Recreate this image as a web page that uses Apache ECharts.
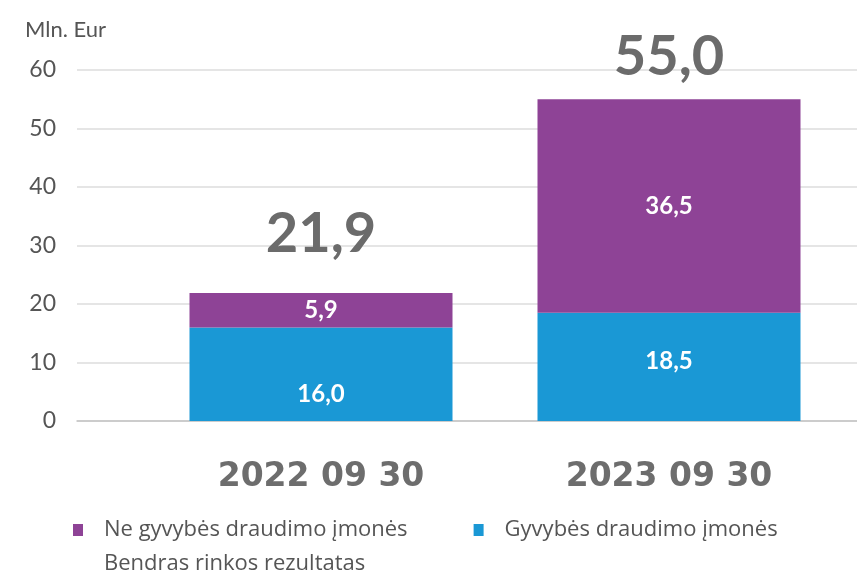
<!DOCTYPE html>
<html>
<head>
<meta charset="utf-8">
<script src="https://cdn.jsdelivr.net/npm/echarts@6/dist/echarts.min.js"></script>
<style>
  html, body { margin: 0; padding: 0; background: #fff; }
  #chart { width: 857px; height: 571px; }
</style>
</head>
<body>
<div id="chart"></div>
<script>
// duomenys
const categories = ['2022 09 30', '2023 09 30']
const lifeValues = [16.0, 18.5]        // Gyvybės draudimo įmonės
const nonLifeValues = [5.9, 36.5]      // Ne gyvybės draudimo įmonės
const totalValues = [21.9, 55.0]       // Bendras rinkos rezultatas
const yTicks = [0, 10, 20, 30, 40, 50, 60]

const seriesNames = ['Ne gyvybės draudimo įmonės', 'Gyvybės draudimo įmonės', 'Bendras rinkos rezultatas']
const purple = '#8e4396'
const blue = '#1a98d5'
const fontFamily = 'Lato, "Open Sans", sans-serif'

const fmt = v => Number(v).toFixed(1).replace('.', ',')

// etikečių poslinkiai (tik išdėstymui)
const lifeLabelOffset = [20, -6]
const totalLabelDistance = [31, 14]

const chart = echarts.init(document.getElementById('chart'))

const yBase = {
  type: 'value',
  min: yTicks[0],
  max: yTicks[yTicks.length - 1],
  interval: 10
}

const insideLabel = {
  show: true,
  position: 'inside',
  formatter: p => fmt(p.value),
  color: '#fff',
  fontSize: 24,
  fontWeight: 'bold'
}

const legendText = { fontSize: 22, color: '#555', fontFamily: '"Open Sans", sans-serif', padding: [0, 0, 0, 16] }

const option = {
  animation: false,
  textStyle: { fontFamily },
  title: {
    text: 'Mln. Eur',
    left: 20,
    top: 14,
    textStyle: { fontSize: 22, fontWeight: 'normal', color: '#555', fontFamily }
  },
  grid: [
    // stulpeliai
    { left: 147, right: 14, top: 70, bottom: 150 },
    // tinklelis ir y ašis
    { left: 77, right: 0, top: 70, bottom: 150 }
  ],
  legend: [
    {
      data: [seriesNames[0], seriesNames[1]],
      left: 68,
      top: 514,
      itemWidth: 10,
      itemHeight: 12,
      itemGap: 66,
      icon: 'rect',
      textStyle: legendText
    },
    {
      data: [seriesNames[2]],
      left: 68,
      top: 548,
      itemWidth: 10,
      itemHeight: 12,
      icon: 'rect',
      itemStyle: { opacity: 0 },
      textStyle: legendText
    }
  ],
  xAxis: [
    {
      gridIndex: 0,
      type: 'category',
      data: categories,
      axisTick: { show: false },
      axisLine: { show: false },
      axisLabel: {
        margin: 40,
        fontSize: 33,
        fontWeight: 'bold',
        color: '#6d6d6d',
        fontFamily: '"DejaVu Sans", sans-serif'
      }
    },
    {
      gridIndex: 1,
      type: 'value',
      min: 0,
      max: 1,
      splitLine: { show: false },
      axisTick: { show: false },
      axisLabel: { show: false },
      axisLine: { show: true, lineStyle: { color: '#c4c4c4', width: 1.5 } }
    }
  ],
  yAxis: [
    Object.assign({ gridIndex: 0, show: false }, yBase),
    Object.assign({
      gridIndex: 1,
      axisLine: { show: false },
      axisTick: { show: false },
      splitLine: { lineStyle: { color: '#dcdcdc', width: 1.5 } },
      axisLabel: { fontSize: 23, color: '#555', margin: 21 }
    }, yBase)
  ],
  series: [
    {
      name: seriesNames[1],
      type: 'bar',
      stack: 'total',
      barWidth: 263,
      itemStyle: { color: blue },
      label: insideLabel,
      data: lifeValues.map((v, i) => ({ value: v, label: { offset: [0, lifeLabelOffset[i]] } }))
    },
    {
      name: seriesNames[0],
      type: 'bar',
      stack: 'total',
      barWidth: 263,
      itemStyle: { color: purple },
      label: insideLabel,
      data: nonLifeValues
    },
    {
      name: seriesNames[2],
      type: 'line',
      showSymbol: true,
      symbolSize: 0,
      itemStyle: { color: 'transparent' },
      lineStyle: { width: 0, opacity: 0 },
      label: {
        show: true,
        position: 'top',
        formatter: p => fmt(p.value),
        color: '#6b6b6b',
        fontSize: 56,
        fontWeight: 'bold'
      },
      data: totalValues.map((v, i) => ({ value: v, label: { distance: totalLabelDistance[i] } }))
    }
  ]
}

chart.setOption(option)
</script>
</body>
</html>
